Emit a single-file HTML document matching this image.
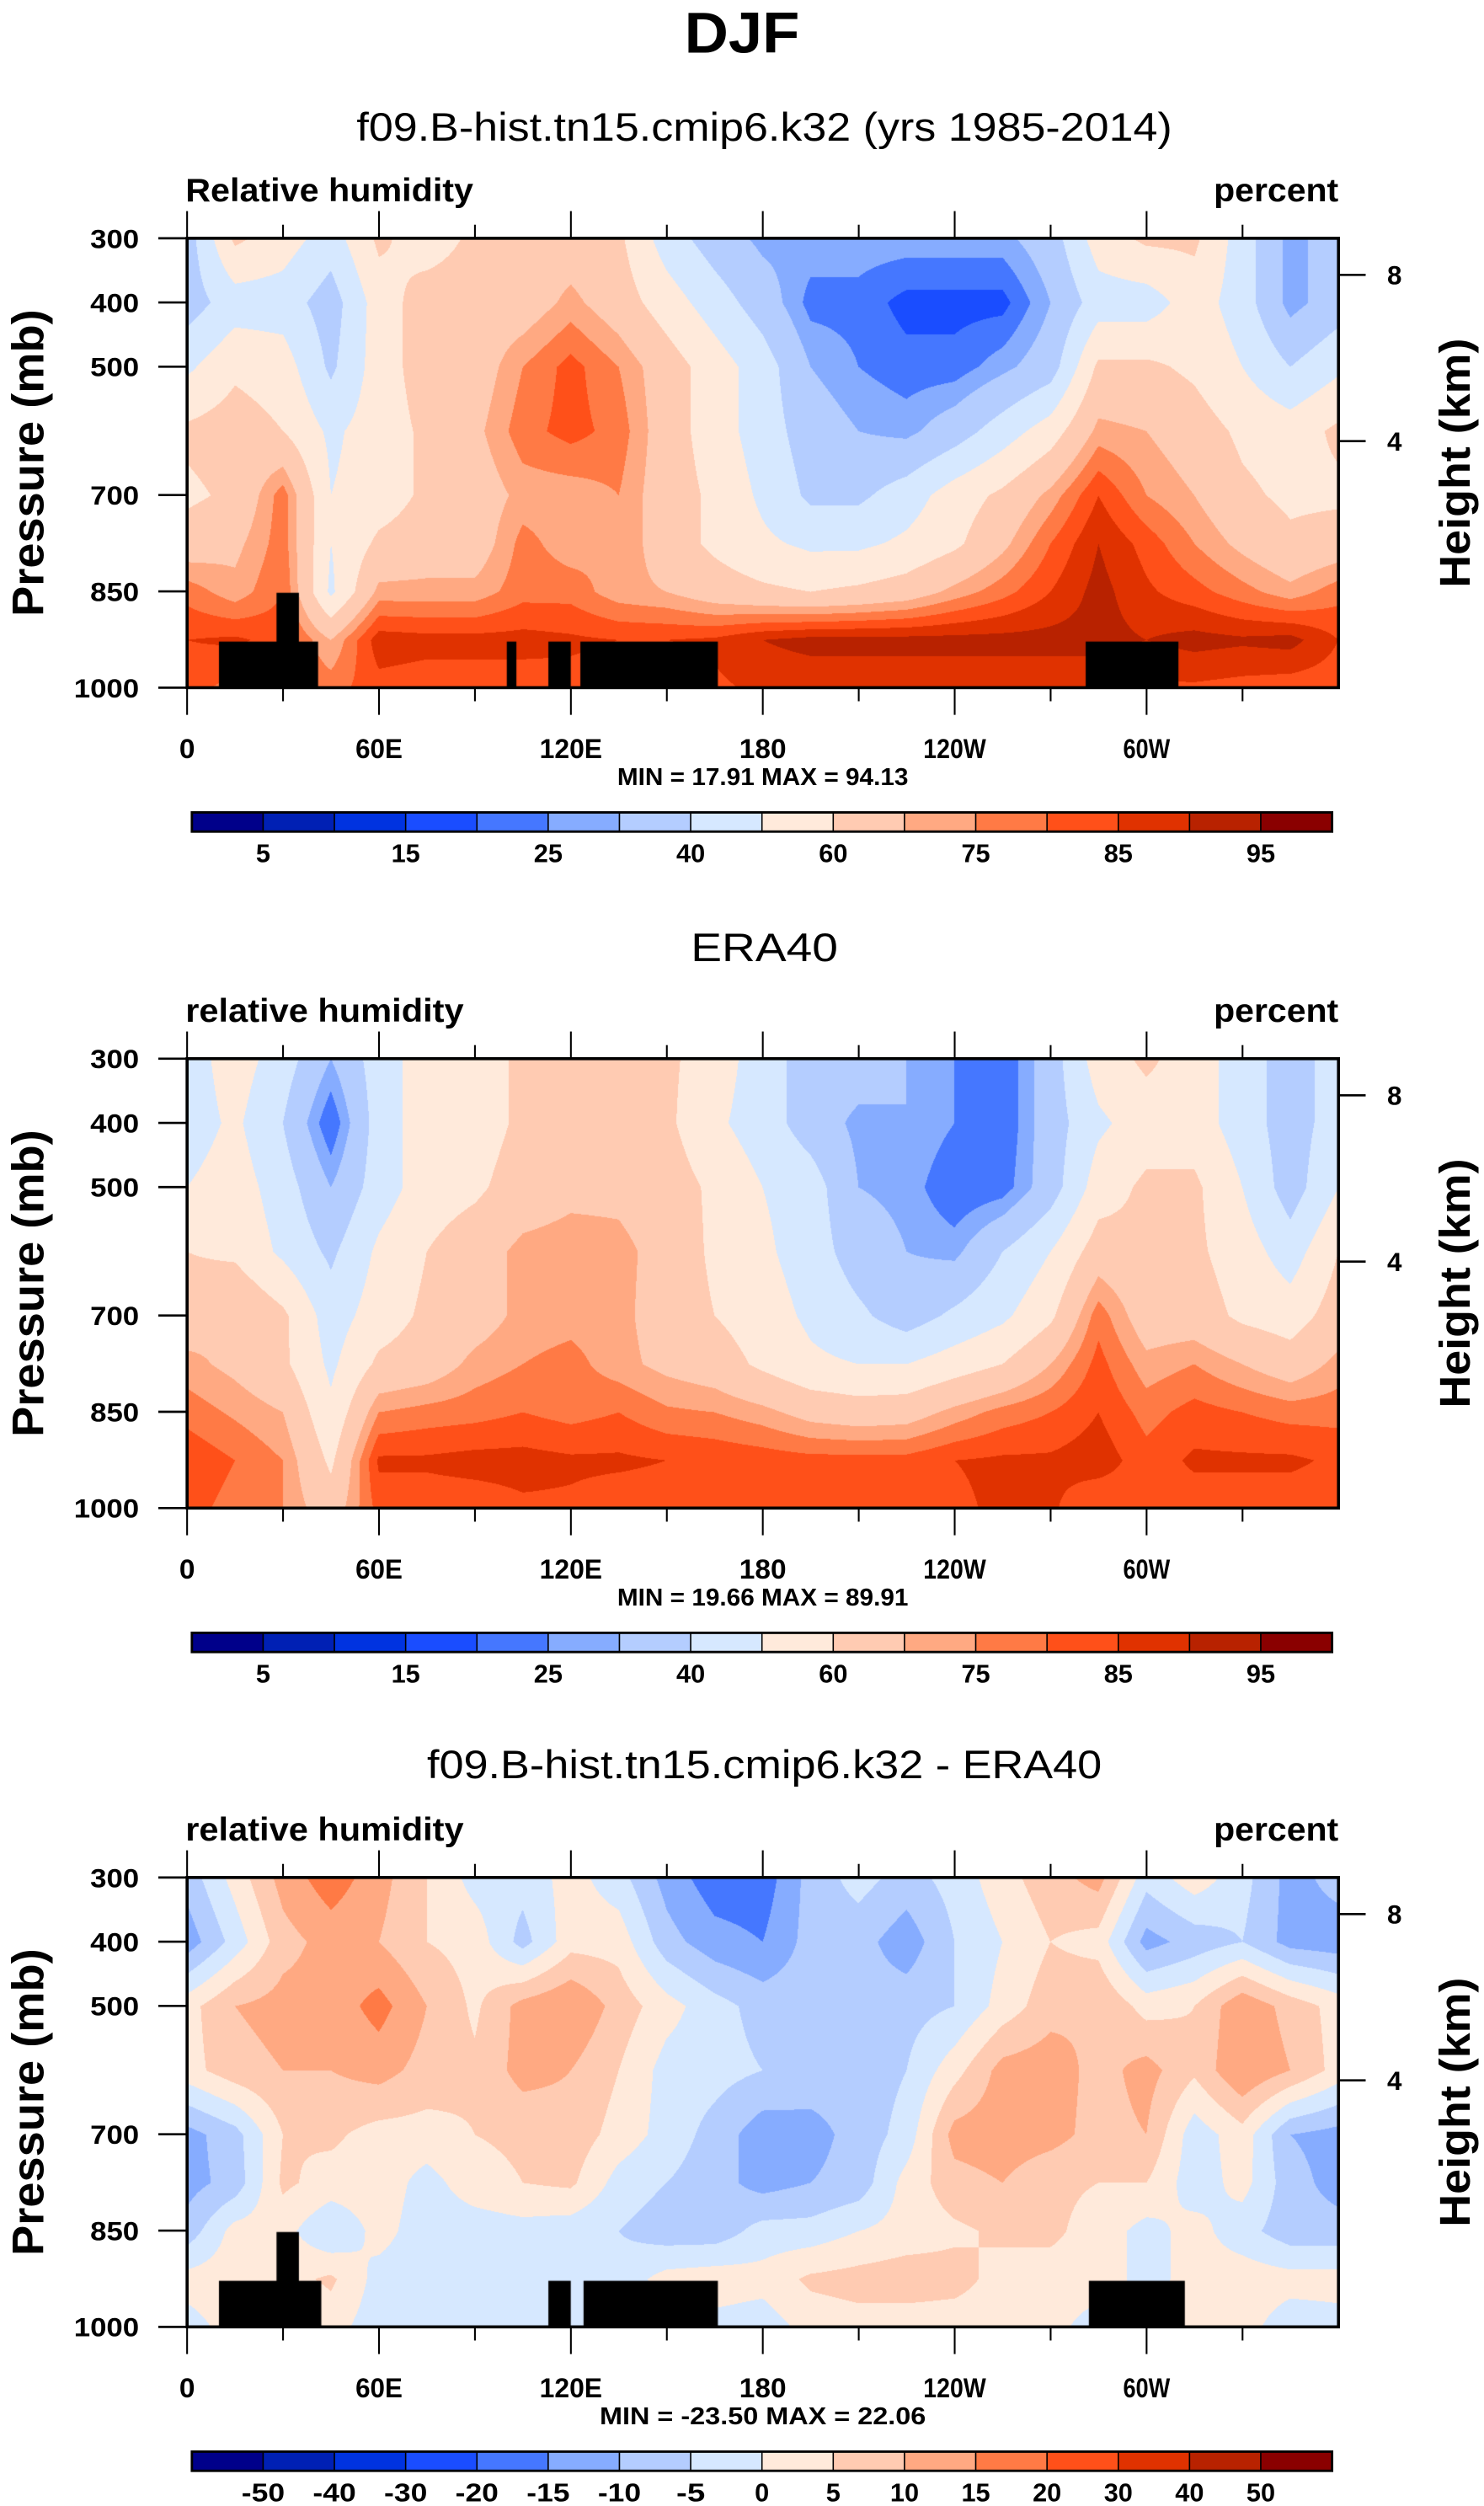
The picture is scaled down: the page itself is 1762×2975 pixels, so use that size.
<!DOCTYPE html>
<html><head><meta charset="utf-8"><title>DJF relative humidity</title>
<style>
html,body{margin:0;padding:0;background:#fff;}
#wrap{position:relative;width:1762px;height:2975px;overflow:hidden;background:#fff;}
canvas{position:absolute;}
svg{position:absolute;left:0;top:0;}
text{font-family:"Liberation Sans",sans-serif;fill:#000;}
</style></head>
<body>
<div id="wrap">
<canvas id="c1"></canvas>
<canvas id="c2"></canvas>
<canvas id="c3"></canvas>
<svg id="ov" width="1762" height="2975" viewBox="0 0 928 1567" preserveAspectRatio="none">
<text x="464" y="33" text-anchor="middle" font-size="36" font-weight="bold" textLength="72" lengthAdjust="spacingAndGlyphs">DJF</text>
<text x="478" y="88" text-anchor="middle" font-size="25" textLength="510" lengthAdjust="spacingAndGlyphs">f09.B-hist.tn15.cmip6.k32 (yrs 1985-2014)</text>
<text x="478" y="601" text-anchor="middle" font-size="25" textLength="92" lengthAdjust="spacingAndGlyphs">ERA40</text>
<text x="478" y="1112" text-anchor="middle" font-size="25" textLength="422" lengthAdjust="spacingAndGlyphs">f09.B-hist.tn15.cmip6.k32 - ERA40</text>
</svg>
</div>
<script>
// ---------- data ----------
const lons = [0,15,30,45,60,75,90,105,120,135,150,165,180,195,210,225,240,255,270,285,300,315,330,345,360];
const pLevels = [300,400,500,600,700,775,850,925,1000];
const rhModel = [
[35,62,55,45,62,55,62,65,65,62,45,35,28,28,28,28,28,28,35,55,62,62,45,27,35],
[35,45,45,35,55,65,65,65,72,65,55,45,35,23,23,18,18,18,30,45,45,55,45,27,35],
[48,58,55,38,55,65,65,75,82,75,65,55,45,30,25,22,22,28,35,62,62,58,50,40,48],
[62,65,60,48,55,62,68,78,82,78,65,55,45,35,30,28,35,45,55,72,70,65,58,55,62],
[58,62,78,50,55,62,65,72,72,75,65,58,48,38,38,45,55,62,72,85,75,70,62,58,58],
[65,68,78,50,62,65,65,77,72,75,65,58,52,48,48,52,58,68,80,90,83,75,68,62,65],
[78,72,80,48,72,72,72,78,78,72,70,65,62,60,62,65,72,78,85,92,86,82,77,72,78],
[85,86,83,70,88,87,87,87,86,85,85,86,90,92,92,92,92,92,92,92,90,92,91,92,85],
[82,78,80,78,83,82,82,82,83,82,80,84,86,86,86,86,86,86,86,86,84,84,83,82,82]
];
const rhObs = [
[45,55,45,30,45,55,55,62,65,65,62,55,45,35,35,30,25,20,35,55,62,55,45,35,45],
[45,52,40,20,45,55,55,62,65,62,62,52,45,35,28,30,25,20,35,48,55,55,45,35,45],
[50,55,45,30,45,55,58,65,68,68,65,58,50,45,30,28,20,22,35,55,62,62,50,35,50],
[60,58,48,38,52,60,66,72,73,72,67,58,52,45,35,30,28,40,50,65,62,62,55,45,60],
[65,70,62,45,55,62,66,72,73,72,66,60,55,48,42,35,42,48,58,78,65,65,58,55,65],
[72,68,62,48,62,65,72,75,77,72,68,65,58,52,50,50,55,60,70,82,72,75,70,65,72],
[78,74,70,52,75,77,78,80,78,80,76,75,72,67,65,66,72,77,80,85,78,82,80,78,78],
[84,80,75,58,86,86,87,87,86,86,85,84,83,82,82,82,85,86,86,88,82,86,86,86,84],
[82,78,75,65,82,82,82,84,84,82,82,82,82,82,82,82,84,86,86,80,83,82,82,82,82]
];
const rhDiff = [
[-8,2,12,18,12,5,-2,-3,2,-3,-12,-18,-18,-8,-3,-7,-3,3,8,12,-3,3,-3,-12,-8],
[-13,-3,8,12,10,5,3,-7,3,3,-8,-13,-15,-8,-8,-13,-5,0,5,3,-12,-8,-5,-12,-13],
[3,10,12,12,17,10,4,12,15,8,2,-3,-7,-7,-8,-7,-5,2,8,10,3,5,14,8,3],
[3,8,10,10,12,8,6,12,10,5,-2,-3,-5,-7,-8,-5,3,12,13,8,12,6,15,10,3],
[-12,-7,5,6,3,3,5,6,8,3,-2,-7,-13,-12,-8,-3,12,13,12,8,10,-3,3,-10,-12],
[-12,-8,6,3,3,-2,3,5,6,-2,-5,-8,-12,-10,-8,2,8,10,6,5,5,-3,2,-8,-12],
[-8,2,2,-5,2,-3,-3,-2,-3,-5,-8,-8,-3,-3,0,2,4,6,6,3,-2,2,-3,-8,-8],
[2,3,3,6,-2,-3,-3,-2,-3,-3,2,3,2,6,7,8,7,3,3,3,-2,2,3,2,2],
[-2,2,-3,2,-3,-3,-2,-3,-3,-3,-3,-2,-3,2,3,2,2,2,2,-3,2,2,2,-3,-2]
];
// topography masks: [lonStart, lonEnd, topPressure]
const topoModel = [[10,41,928],[28,35,852],[100,103,928],[113,120,928],[123,166,928],[281,310,928]];
const topoDiff = [[10,42,928],[28,35,852],[113,120,928],[124,166,928],[282,312,928]];
const rhLevels = [5,10,15,20,25,30,40,50,60,70,75,80,85,90,95];
const rhLabels = ["5","15","25","40","60","75","85","95"];
const diffLevels = [-50,-40,-30,-20,-15,-10,-5,0,5,10,15,20,30,40,50];
const diffLabels = ["-50","-40","-30","-20","-15","-10","-5","0","5","10","15","20","30","40","50"];
const palette = ["#00008a","#0020b4","#0033e0","#1a4dff","#4577ff","#86acff","#b4cdff","#d6e8ff","#ffeadb","#ffcbb2","#ffa982","#ff7a45","#ff5019","#e03200","#b82200","#8a0000"];
const xTickLabels = ["0","60E","120E","180","120W","60W"];
const xTickLons = [0,60,120,180,240,300];
const pTicks = [300,400,500,700,850,1000];
const hTicks = [8,4];
const hTickP = [357,616];
const panelOffsets = [0,513,1025];
const minmax = ["MIN = 17.91  MAX = 94.13","MIN = 19.66  MAX = 89.91","MIN = -23.50  MAX = 22.06"];
const leftTitles = ["Relative humidity","relative humidity","relative humidity"];

// ---------- scales ----------
const S = 1762/928;
const X0 = 117, X1 = 837, Y0 = 149, Y1 = 430;
function xScale(lon){ return X0 + (lon/360)*(X1-X0); }
function yScale(p, off){ return Y0 + off + (p-300)/700*(Y1-Y0); }

function rgb(h){ return [parseInt(h.slice(1,3),16),parseInt(h.slice(3,5),16),parseInt(h.slice(5,7),16)]; }
const palRGB = palette.map(rgb);
function classify(v, levels){ let i=0; while(i<levels.length && v>=levels[i]) i++; return i; }
function interp(field, lon, p){
  let i = Math.min(Math.floor(lon/15), lons.length-2);
  let tx = (lon - lons[i])/15;
  let j = 0; while(j < pLevels.length-2 && p > pLevels[j+1]) j++;
  let ty = (p - pLevels[j])/(pLevels[j+1]-pLevels[j]);
  const a = field[j][i], b = field[j][i+1], c = field[j+1][i], d = field[j+1][i+1];
  return (a*(1-tx)+b*tx)*(1-ty) + (c*(1-tx)+d*tx)*ty;
}
function drawField(id, field, levels, topo, off){
  const cv = document.getElementById(id);
  const L = xScale(0)*S, T = yScale(300,off)*S;
  const W = Math.round((xScale(360)-xScale(0))*S), H = Math.round((yScale(1000,off)-yScale(300,off))*S);
  cv.width = W; cv.height = H;
  cv.style.left = L+'px'; cv.style.top = T+'px';
  const ctx = cv.getContext('2d');
  const img = ctx.createImageData(W,H);
  for(let py=0; py<H; py++){
    const p = 300 + (py+0.5)/H*700;
    for(let px=0; px<W; px++){
      const lon = (px+0.5)/W*360;
      const c = palRGB[classify(interp(field,lon,p), levels)];
      const k = (py*W+px)*4;
      img.data[k]=c[0]; img.data[k+1]=c[1]; img.data[k+2]=c[2]; img.data[k+3]=255;
    }
  }
  ctx.putImageData(img,0,0);
  ctx.fillStyle = '#000';
  topo.forEach(t=>{
    const x0 = (xScale(t[0])-xScale(0))*S, x1 = (xScale(t[1])-xScale(0))*S;
    const y0 = (yScale(t[2],off)-yScale(300,off))*S;
    ctx.fillRect(x0, y0, x1-x0, H-y0);
  });
}
drawField('c1', rhModel, rhLevels, topoModel, panelOffsets[0]);
drawField('c2', rhObs, rhLevels, [], panelOffsets[1]);
drawField('c3', rhDiff, diffLevels, topoDiff, panelOffsets[2]);

// ---------- overlay ----------
const NS = 'http://www.w3.org/2000/svg';
const ov = document.getElementById('ov');
function mk(tag, attrs, parent){
  const e = document.createElementNS(NS, tag);
  for(const k in attrs) e.setAttribute(k, attrs[k]);
  (parent||ov).appendChild(e); return e;
}
function line(x1,y1,x2,y2,w,name){
  const e = mk('line',{x1:x1,y1:y1,x2:x2,y2:y2,stroke:'#000','stroke-width':w});
  
  
  return e;
}
function txt(x,y,s,size,anchor,name,extra){
  const e = mk('text', Object.assign({x:x,y:y,'font-size':size,'font-weight':'bold','text-anchor':anchor}, extra||{}));
  e.textContent = s;
  
  
  return e;
}

panelOffsets.forEach((off, pi)=>{
  const n = 'panel'+(pi+1);
  const g = mk('g',{});
  
  
  const yT = yScale(300,off), yB = yScale(1000,off);
  const fr = mk('rect',{x:X0,y:yT,width:X1-X0,height:yB-yT,fill:'none',stroke:'#000','stroke-width':1.9});
  
  
  for(let lon=0; lon<360; lon+=30){
    const len = (lon%60===0)?17:8.5;
    const x = xScale(lon);
    line(x,yT,x,yT-len,1.1,n+'-top-tick');
    line(x,yB,x,yB+len,1.1,n+'-bottom-tick');
  }
  xTickLons.forEach((lon,i)=>{
    txt(xScale(lon), yB+44, xTickLabels[i], 17, 'middle', n+'-x-tick-label', {textLength: xTickLabels[i].length*9.8, lengthAdjust:'spacingAndGlyphs'});
  });
  pTicks.forEach(p=>{
    const y = yScale(p,off);
    line(X0-18,y,X0,y,1.4,n+'-y-tick');
    txt(87, y+6, String(p), 16.5, 'end', n+'-y-tick-label', {textLength: String(p).length*10.2, lengthAdjust:'spacingAndGlyphs'});
  });
  hTicks.forEach((h,i)=>{
    const y = yScale(hTickP[i],off);
    line(X1,y,X1+17,y,1.4,n+'-right-tick');
    txt(872, y+6, String(h), 16.5, 'middle', n+'-height-tick-label');
  });
  const cy = (yT+yB)/2;
  txt(17, cy, 'Pressure (mb)', 28, 'middle', n+'-y-axis-title', {transform:'rotate(-90 17 '+cy+')', dy:10, textLength:192, lengthAdjust:'spacingAndGlyphs'});
  txt(910, cy, 'Height (km)', 27, 'middle', n+'-right-axis-title', {transform:'rotate(-90 910 '+cy+')', dy:9, textLength:156, lengthAdjust:'spacingAndGlyphs'});
  txt(116, yT-23, leftTitles[pi], 20.5, 'start', n+'-variable-label', {textLength: pi===0?180:174, lengthAdjust:'spacingAndGlyphs'});
  txt(837, yT-23, 'percent', 20.5, 'end', n+'-units-label', {textLength:78, lengthAdjust:'spacingAndGlyphs'});
  txt(477, yB+61, minmax[pi], 15, 'middle', n+'-min-max', {textLength: pi===2?204:182, lengthAdjust:'spacingAndGlyphs'});
  const cbT = yB+78, cbH = 12, cbL = 120, cbW = 713;
  const bw = cbW/palette.length;
  palette.forEach((c,i)=>{
    const r = mk('rect',{x:cbL+i*bw,y:cbT,width:bw,height:cbH,fill:c,stroke:'#000','stroke-width':0.8});
    
    
  });
  const ob = mk('rect',{x:cbL,y:cbT,width:cbW,height:cbH,fill:'none',stroke:'#000','stroke-width':1.5});
  
  
  if(pi<2){
    rhLabels.forEach((s,i)=>{
      txt(cbL+(2*i+1)*bw, cbT+31, s, 16, 'middle', n+'-colorbar-label', {textLength: s.length*9, lengthAdjust:'spacingAndGlyphs'});
    });
  } else {
    diffLabels.forEach((s,i)=>{
      txt(cbL+(i+1)*bw, cbT+31, s, 16, 'middle', n+'-colorbar-label', {textLength: s.length*9, lengthAdjust:'spacingAndGlyphs'});
    });
  }
});
</script>
</body></html>
